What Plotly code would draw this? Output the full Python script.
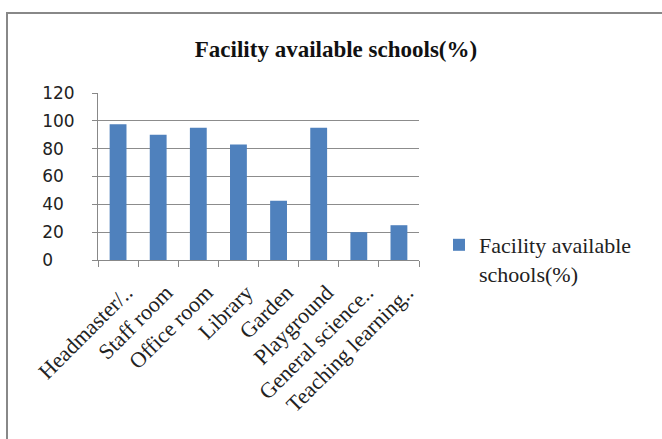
import plotly.graph_objects as go

categories = ["Headmaster/..", "Staff room", "Office room", "Library", "Garden",
              "Playground", "General science..", "Teaching learning.."]
values = [97.5, 90, 95, 83, 42.5, 95, 20, 25]
series_name = "Facility available<br>schools(%)"
title_text = "Facility available schools(%)"
y_tickvals = [0, 20, 40, 60, 80, 100, 120]
y_ticktext = ["0\u2007\u2007", "20\u2007", "40\u2007", "60\u2007", "80\u2007", "100", "120"]

W, H = 662, 439
L, R, T, B = 98, 419, 93, 260
pw, ph = R - L, B - T

def px_x(x):
    return (x - L) / pw

def px_y(y):
    return (B - y) / ph

fig = go.Figure()
fig.add_trace(go.Bar(
    x=categories, y=values, name=series_name,
    marker=dict(color="#4F81BD", line=dict(width=0)),
    width=0.42, showlegend=True,
))

serif = "Liberation Serif, Times New Roman, serif"
fig.update_layout(
    width=W, height=H,
    margin=dict(l=L, r=W - R, t=T, b=H - B, pad=0),
    paper_bgcolor="white", plot_bgcolor="white",
    title=dict(text="<b>" + title_text + "</b>", x=336 / W, xanchor="center",
               y=1 - 49 / H, yanchor="middle",
               font=dict(family=serif, size=23, color="#111")),
    showlegend=True,
    legend=dict(x=px_x(439), xanchor="left", y=px_y(224), yanchor="top",
                valign="top",
                font=dict(family=serif, size=22, color="#222"),
                bgcolor="rgba(0,0,0,0)", borderwidth=0, itemwidth=30),
    xaxis=dict(type="category", tickangle=-45, tickson="boundaries",
               ticks="outside", ticklen=6, tickcolor="#888", tickwidth=1,
               showline=True, linecolor="#888", linewidth=1,
               showgrid=False, ticklabelstandoff=10, ticklabelshift=8,
               tickfont=dict(family=serif, size=22, color="#222")),
    yaxis=dict(range=[0, 120], tickvals=y_tickvals, ticktext=y_ticktext,
               ticks="outside", ticklen=5, tickcolor="#888",
               showline=True, linecolor="#888", linewidth=1,
               showgrid=True, gridcolor="#8c8c8c", gridwidth=1,
               zeroline=False, ticklabelstandoff=14,
               tickfont=dict(family="DejaVu Sans, Verdana, sans-serif", size=17, color="#222")),
    shapes=[dict(type="rect", xref="paper", yref="paper",
                 x0=px_x(7), x1=px_x(672), y0=px_y(452), y1=px_y(13),
                 line=dict(color="#888", width=2), fillcolor="rgba(0,0,0,0)", layer="below")],
)

fig.write_html("out.html")
